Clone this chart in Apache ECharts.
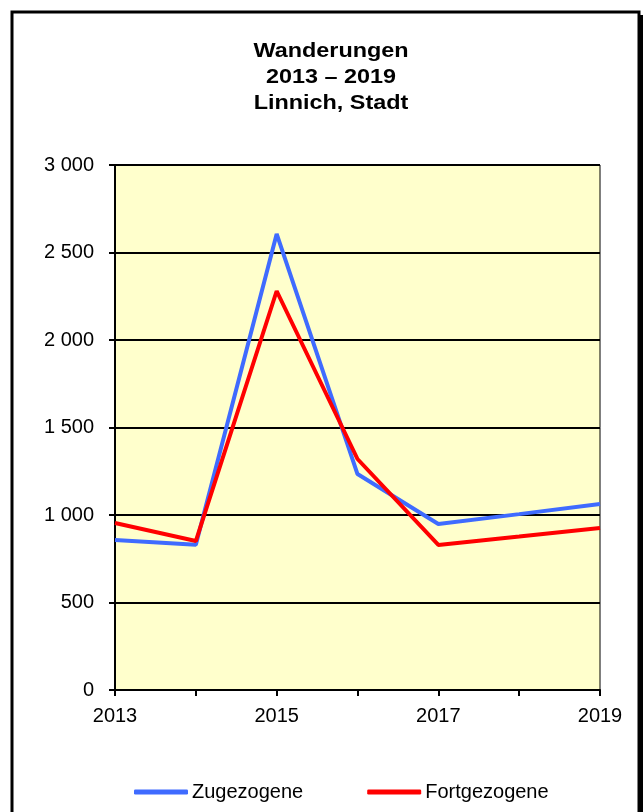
<!DOCTYPE html>
<html>
<head>
<meta charset="utf-8">
<script src="https://cdn.jsdelivr.net/npm/echarts@6/dist/echarts.min.js"></script>
<style>
html, body { margin: 0; padding: 0; background: #fff; }
#chart { width: 643px; height: 812px; }
</style>
</head>
<body>
<div id="chart"></div>
<script>
// Daten
const years = ["2013", "2014", "2015", "2016", "2017", "2018", "2019"];
const zugezogene = [857, 830, 2606, 1234, 949, 1005, 1063];
const fortgezogene = [954, 851, 2280, 1320, 829, 877, 926];
const yTicks = [0, 500, 1000, 1500, 2000, 2500, 3000];
const titleLines = ["Wanderungen", "2013 – 2019", "Linnich, Stadt"];

const chart = echarts.init(document.getElementById("chart"), null, { renderer: "canvas" });

const FONT = "'Liberation Sans', Arial, sans-serif";

// Tausender mit Leerzeichen
const fmt = v => {
    const s = String(v);
    return s.length > 3 ? s.slice(0, s.length - 3) + " " + s.slice(-3) : s;
};

const option = {
    animation: false,
    textStyle: { fontFamily: FONT },
    graphic: [
        // Rahmen
        { type: "rect", z: -10, shape: { x: 12, y: 12, width: 627, height: 840 }, style: { fill: "#fff", stroke: "#000", lineWidth: 3 } },
        { type: "rect", z: -9, shape: { x: 638, y: 15, width: 5, height: 840 }, style: { fill: "#000" } },
        // Titel (etwas breiter gezogen wie im Original)
        {
            type: "text",
            x: 331,
            y: 38,
            scaleX: 1.17,
            style: {
                text: titleLines.join("\n"),
                x: 0,
                y: 0,
                align: "center",
                verticalAlign: "top",
                fontSize: 20,
                fontWeight: "bold",
                fontFamily: FONT,
                lineHeight: 26,
                fill: "#000"
            }
        }
    ],
    legend: {
        top: 777,
        left: 129,
        itemGap: 64,
        itemWidth: 54,
        itemHeight: 5,
        icon: "roundRect",
        textStyle: { fontSize: 20, color: "#000", padding: [0, 0, 0, -1] },
        data: ["Zugezogene", "Fortgezogene"]
    },
    grid: {
        left: 115,
        right: 43,
        top: 165,
        bottom: 122,
        show: true,
        backgroundColor: "#FFFFCC",
        borderColor: "#000",
        borderWidth: 1
    },
    xAxis: {
        type: "category",
        data: years,
        boundaryGap: false,
        axisLine: { lineStyle: { color: "#000", width: 2 } },
        axisTick: { interval: 0, length: 6, lineStyle: { color: "#000", width: 2 } },
        axisLabel: { interval: 1, color: "#000", fontSize: 20, margin: 16 },
        splitLine: { show: false }
    },
    yAxis: {
        type: "value",
        min: yTicks[0],
        max: yTicks[yTicks.length - 1],
        interval: 500,
        axisLine: { show: true, lineStyle: { color: "#000", width: 2 } },
        axisTick: { show: true, length: 6, lineStyle: { color: "#000", width: 2 } },
        axisLabel: { color: "#000", fontSize: 20, margin: 21, formatter: fmt },
        splitLine: { lineStyle: { color: "#000", width: 2 } }
    },
    series: [
        {
            name: "Zugezogene",
            type: "line",
            data: zugezogene,
            symbol: "none",
            lineStyle: { color: "#3F6BFF", width: 4 },
            itemStyle: { color: "#3F6BFF" }
        },
        {
            name: "Fortgezogene",
            type: "line",
            data: fortgezogene,
            symbol: "none",
            lineStyle: { color: "#FF0000", width: 4 },
            itemStyle: { color: "#FF0000" }
        }
    ]
};
chart.setOption(option);
</script>
</body>
</html>
